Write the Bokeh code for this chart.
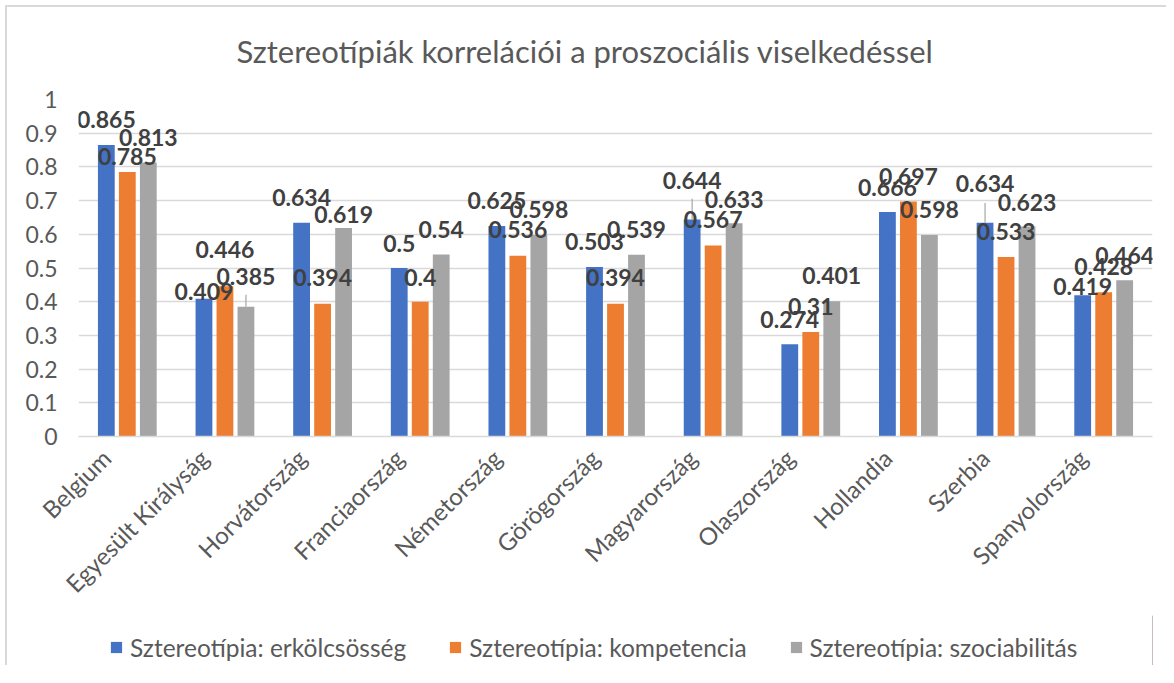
import math
from bokeh.plotting import figure
from bokeh.layouts import column
from bokeh.models import (ColumnDataSource, LabelSet, Legend, LegendItem,
                          FixedTicker, NumeralTickFormatter, Range1d)
from bokeh.transform import dodge
from bokeh.core.properties import value
from bokeh.embed import file_html
from bokeh.resources import INLINE

# ---------------- data ----------------
countries = ["Belgium", "Egyesült Királyság", "Horvátország", "Franciaország",
             "Németország", "Görögország", "Magyarország", "Olaszország",
             "Hollandia", "Szerbia", "Spanyolország"]
erkolcsosseg = [0.865, 0.409, 0.634, 0.5, 0.625, 0.503, 0.644, 0.274, 0.666, 0.634, 0.419]
kompetencia = [0.785, 0.446, 0.394, 0.4, 0.536, 0.394, 0.567, 0.31, 0.697, 0.533, 0.428]
szociabilitas = [0.813, 0.385, 0.619, 0.54, 0.598, 0.539, 0.633, 0.401, 0.598, 0.623, 0.464]
series_names = ["Sztereotípia: erkölcsösség", "Sztereotípia: kompetencia",
                "Sztereotípia: szociabilitás"]
y_ticks = [0, 0.1, 0.2, 0.3, 0.4, 0.5, 0.6, 0.7, 0.8, 0.9, 1]
title_text = "Sztereotípiák korrelációi a proszociális viselkedéssel"

# ---------------- style ----------------
colors = ["#4472C4", "#ED7D31", "#A5A5A5"]
offsets = [-0.215, 0.0, 0.215]
bar_w = 0.172
label_shift = 0.215          # category labels sit slightly left of the group centre
# label lift above bar top (px) as placed in the original chart
lift = [
    [25, 7, 25, 25, 25.5, 25, 39, 24.5, 24.6, 39, 9],
    [15.5, 37, 26, 24.5, 26, 26, 25.5, 26, 24.7, 25, 25.5],
    [25, 30, 13.5, 25, 25, 25, 24, 25.7, 25, 24, 25],
]
# leader line lengths (px)
leader = [
    [0, 0, 0, 0, 0, 0, 21, 0, 0, 20, 0],
    [0, 0, 0, 0, 0, 0, 0, 0, 0, 0, 0],
    [0, 12, 0, 0, 0, 0, 0, 0, 0, 0, 0],
]
FONT = "Lato"
TXT = "#595959"
W = 1166
H1, H2 = 615, 50
B_L, B_T = 78, 96
B_R = W - 1152
FRAME_H = 340
B_B = H1 - B_T - FRAME_H

n = len(countries)
xpos = [i + 0.5 for i in range(n)]
series = [erkolcsosseg, kompetencia, szociabilitas]

p = figure(x_range=Range1d(0, n), y_range=Range1d(0, 1),
           width=W, height=H1, output_backend="svg", toolbar_location=None,
           min_border_left=B_L, min_border_right=B_R, min_border_top=B_T,
           min_border_bottom=B_B, styles={"overflow": "hidden"})
p.outline_line_color = None
p.border_fill_color = None

src = ColumnDataSource(dict(x=xpos, s0=series[0], s1=series[1], s2=series[2]))

renderers = []
for k in range(3):
    r = p.vbar(x=dodge("x", offsets[k]), top="s%d" % k,
               width=bar_w, source=src, fill_color=colors[k], line_color=None)
    renderers.append(r)

# leader lines
for k in range(3):
    idx = [i for i in range(n) if leader[k][i] > 0]
    if not idx:
        continue
    lsrc = ColumnDataSource(dict(
        x=[xpos[i] for i in idx],
        y0=[series[k][i] for i in idx],
        y1=[series[k][i] + leader[k][i] / FRAME_H for i in idx]))
    p.segment(x0=dodge("x", offsets[k]), y0="y0", x1=dodge("x", offsets[k]), y1="y1",
              source=lsrc, line_color="#A6A6A6", line_width=1.2)

# data labels
for k in range(3):
    lsrc = ColumnDataSource(dict(x=xpos, v=series[k],
                                 t=[str(v) for v in series[k]], dy=lift[k]))
    ls = LabelSet(x=dodge("x", offsets[k]), y="v", text="t",
                  y_offset="dy", source=lsrc, text_align="center",
                  text_baseline="middle", text_font=value(FONT),
                  text_font_size="23px", text_font_style="bold",
                  text_color="#404040")
    p.add_layout(ls)

# axes
p.yaxis.ticker = FixedTicker(ticks=y_ticks)
p.yaxis.formatter = NumeralTickFormatter(format="0.[0]")
p.yaxis.axis_line_color = None
p.yaxis.major_tick_line_color = None
p.yaxis.minor_tick_line_color = None
p.yaxis.major_tick_out = 0
p.yaxis.major_tick_in = 0
p.yaxis.major_label_standoff = 21
p.yaxis.major_label_text_font = FONT
p.yaxis.major_label_text_font_size = "23px"
p.yaxis.major_label_text_color = TXT

label_ticks = [x - label_shift for x in xpos]
p.xaxis.ticker = FixedTicker(ticks=label_ticks)
p.xaxis.major_label_overrides = {t: c for t, c in zip(label_ticks, countries)}
p.xaxis.axis_line_color = "#D9D9D9"
p.xaxis.axis_line_width = 1.5
p.xaxis.major_tick_line_color = None
p.xaxis.minor_tick_line_color = None
p.xaxis.major_tick_out = 0
p.xaxis.major_tick_in = 0
p.xaxis.major_label_orientation = math.pi / 4
p.xaxis.major_label_standoff = 17
p.xaxis.major_label_text_font = FONT
p.xaxis.major_label_text_font_size = "24px"
p.xaxis.major_label_text_color = TXT

p.xgrid.grid_line_color = None
p.ygrid.grid_line_color = "#D9D9D9"
p.ygrid.grid_line_width = 1.5

# title
p.title.text = title_text
p.title.align = "left"
p.title.offset = 158
p.title.text_font = FONT
p.title.text_font_size = "31px"
p.title.text_font_style = "normal"
p.title.text_color = TXT
p.title.standoff = 59

# legend strip (separate small figure so the legend is not clipped)
p2 = figure(x_range=Range1d(0, 1), y_range=Range1d(0, 1), width=W, height=H2,
            output_backend="svg", toolbar_location=None,
            x_axis_location=None, y_axis_location=None, min_border=0,
            styles={"overflow": "hidden"})
p2.outline_line_color = None
p2.border_fill_color = None
p2.background_fill_color = None
p2.grid.visible = False
# legend swatches only: the glyph sits outside the visible range
leg_r = [p2.vbar(x=[5], top=[1], width=0.1, fill_color=colors[k], line_color=None)
         for k in range(3)]
legend = Legend(items=[LegendItem(label=series_names[k], renderers=[leg_r[k]])
                       for k in range(3)],
                orientation="horizontal", location=(31, 3.5),
                glyph_width=14, glyph_height=14, label_standoff=7, spacing=42,
                padding=0, margin=0, border_line_color=None,
                background_fill_alpha=0, label_text_font=FONT,
                label_text_font_size="24.5px", label_text_color=TXT)
p2.add_layout(legend)

layout = column(p, p2, spacing=0,
                styles={"box-shadow": "inset 5px 5px 0 0 #FFFFFF, inset 7px 7px 0 0 #D9D9D9"})
open("out.html", "w").write(file_html(layout, INLINE))
